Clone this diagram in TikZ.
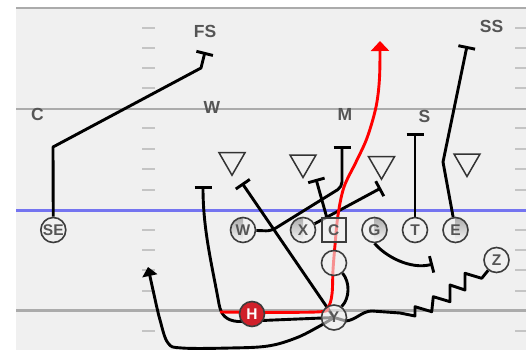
\documentclass[tikz,border=0pt]{standalone}
\usepackage{fontspec}
\setmainfont{Liberation Sans}
\usetikzlibrary{arrows.meta,shapes.geometric}

\definecolor{field}{HTML}{F0F0F0}
\definecolor{yardline}{HTML}{ABABAB}
\definecolor{scrim}{HTML}{7474F0}
\definecolor{hashmark}{HTML}{C4C4C4}
\definecolor{ink}{HTML}{3C3C3C}
\definecolor{lbl}{HTML}{555555}
\definecolor{shade}{HTML}{959595}
\definecolor{hred}{HTML}{D0202A}

\pgfdeclarelayer{bg}
\pgfdeclarelayer{routes}
\pgfsetlayers{bg,routes,main}

\tikzset{
  deflbl/.style={text=lbl, font=\bfseries\fontsize{17.5}{17.5}\selectfont, inner sep=0pt},
  defender/.style={regular polygon, regular polygon sides=3, regular polygon rotate=180,
    minimum size=30pt, inner sep=0pt, draw=black!80, line width=1.5pt},
  player/.style={circle, minimum size=25pt, inner sep=0pt, draw=ink, line width=1.6pt,
    fill=field, fill opacity=0.6, text opacity=1, text=lbl,
    font=\bfseries\fontsize{15.5}{15.5}\selectfont},
  centerbox/.style={player, rectangle, minimum size=24pt},
  shadeleft/.style={path picture={\fill[shade] (path picture bounding box.south west)
    rectangle (path picture bounding box.north);}},
  shaderight/.style={path picture={\fill[shade] (path picture bounding box.south)
    rectangle (path picture bounding box.north east);}},
  carrier/.style={circle, minimum size=25pt, inner sep=0pt, draw=ink, line width=1.6pt,
    fill=hred, text=white, font=\bfseries\fontsize{15.5}{15.5}\selectfont},
  route/.style={line width=2.9pt, black, line join=round},
  tbar/.style={-{Bar[width=17pt]}},
  runpath/.style={line width=2.9pt, red, line join=round,
    -{Triangle[width=18pt,length=10pt]}},
}

\begin{document}
\begin{tikzpicture}[x=1pt, y=-1pt]
\useasboundingbox (0,0) rectangle (526,350);

% field, yard lines and hash marks
\begin{pgfonlayer}{bg}
  \fill[white] (0,0) rectangle (526,350);
  \fill[field] (16,9) rectangle (526,350);
  \draw[yardline, line width=2.2pt] (16,8) -- (526,8);
  \draw[yardline, line width=2.2pt] (16,109) -- (526,109);
  \draw[yardline, line width=2.2pt] (16,310.5) -- (526,310.5);
  \draw[scrim, line width=3pt] (16,210) -- (526,210);
  \foreach \y in {28,48,68,88,128,149,169,190,230,250,270,291,331} {
    \draw[hashmark, line width=1.6pt] (142,\y) -- (155,\y);
    \draw[hashmark, line width=1.6pt] (515,\y) -- (526,\y);
  }
\end{pgfonlayer}

% defense
\node[deflbl] (fs) at (205,31) {FS};
\node[deflbl] (ss) at (491.5,26) {SS};
\node[deflbl] (cb) at (37.5,114) {C};
\node[deflbl] (wlb) at (212,107.5) {W};
\node[deflbl] (mlb) at (345,114.5) {M};
\node[deflbl] (slb) at (424.5,116.5) {S};
\node[defender] (d1) at (232,160.2) {};
\node[defender] (d2) at (303,162.5) {};
\node[defender] (d3) at (381.5,164.2) {};
\node[defender] (d4) at (467,161.5) {};

% offense
\node[player] (SE) at (53.3,230) {SE};
\node[player, shadeleft] (W) at (243,230) {W};
\node[player, shadeleft] (X) at (303,230) {X};
\node[centerbox] (Cb) at (333.7,230) {C};
\node[player, shaderight] (G) at (374.5,230) {G};
\node[player] (T) at (415,230) {T};
\node[player, shaderight] (E) at (455.5,230) {E};
\node[player] (QB) at (334,263) {};
\node[player] (Y) at (334,317.5) {Y};
\node[carrier] (H) at (252,314) {H};
\node[player] (Z) at (496.5,260) {Z};

% route end points
\coordinate (seEnd) at (205,52);
\coordinate (eEnd) at (467,46);
\coordinate (tEnd) at (415,133);
\coordinate (wEnd) at (342,146);
\coordinate (xEnd) at (381,188);
\coordinate (cEnd) at (316,179);
\coordinate (yEnd) at (242,183);
\coordinate (hEnd) at (203,186);
\coordinate (gEnd) at (433,264);
\coordinate (runStart) at (220,312);
\coordinate (runEnd) at (380,41);
\coordinate (backEnd) at (148,267);

\begin{pgfonlayer}{routes}
  \draw[route, tbar] (SE) -- (53,147) -- (201,68) -- (seEnd);
  \draw[route, tbar] (E) -- (443,162) -- (eEnd);
  \draw[route, tbar] (T) -- (tEnd);
  \draw[route, tbar, rounded corners=5pt] (W) -- (271,231) -- (342,187) -- (wEnd);
  \draw[route, tbar] (X) -- (xEnd);
  \draw[route, tbar] ([xshift=-7pt]Cb.north) -- (cEnd);
  \draw[route, tbar] (Y.center) -- (yEnd);
  \draw[route, tbar] (Y.center) -- (238,321.5)
    .. controls (226,320.5) and (221,315) .. (219,304)
    .. controls (212,265) and (203,230) .. (hEnd);
  \draw[route, tbar] (G.south) .. controls (385,256) and (410,270) .. (gEnd);
  \draw[route] (QB.-50) .. controls (350,282) and (350,298) .. (Y.55);
  \draw[route] (Y.center) -- (346,321) .. controls (356,320) and (362,311) .. (372,311)
    -- (400,313) -- (415,316) -- (415,306.7) -- (431.7,311.7) -- (433.3,296.7)
    -- (450,301.7) -- (450,285) -- (465,290) -- (465,273.3) -- (481.7,278.3) -- (Z);
  \draw[route, -{Triangle[width=15pt,length=9pt]}] plot[smooth, tension=0.6] coordinates
    {(Y.center) (318,327) (296,338) (268,346) (230,348) (182,348) (168,343) (160,320)
     (153,290) (backEnd)};
  \draw[runpath] plot[smooth, tension=0.55] coordinates
    {(runStart) (316,312) (328,307) (332,294) (333,270) (335,245) (338,215) (344,187)
     (356,162) (367,138) (376,107) (379.5,78) (runEnd)};
\end{pgfonlayer}
\end{tikzpicture}
\end{document}
